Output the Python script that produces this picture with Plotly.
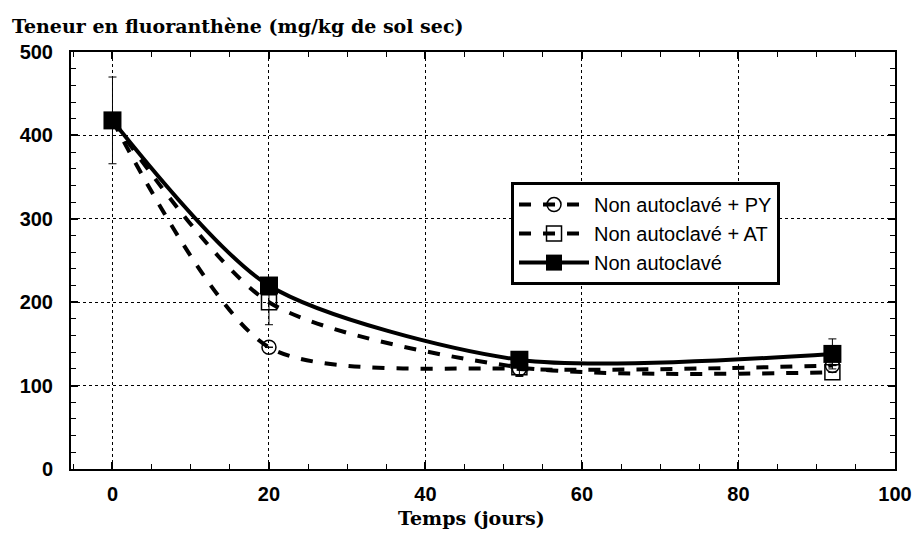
import plotly.graph_objects as go

days = [0, 20, 52, 92]
py_vals = [418, 146, 120, 124]
at_vals = [418, 200, 122, 116]
na_vals = [418, 220, 131, 138]
py_err = [0, 0, 9, 0]
at_err = [0, 27, 0, 0]
na_err = [52, 0, 0, 18]
names = ["Non autoclavé + PY", "Non autoclavé + AT", "Non autoclavé"]

SMOOTH = 0.75
fig = go.Figure()
fig.add_trace(go.Scatter(
    x=days, y=py_vals, name=names[0], mode="lines+markers",
    line=dict(color="black", width=4, dash="dash", shape="spline", smoothing=SMOOTH),
    marker=dict(symbol="circle-open", size=14, color="black", line=dict(width=1.5)),
    error_y=dict(type="data", array=py_err, color="black", thickness=1, width=4),
))
fig.add_trace(go.Scatter(
    x=days, y=at_vals, name=names[1], mode="lines+markers",
    line=dict(color="black", width=4, dash="dash", shape="spline", smoothing=SMOOTH),
    marker=dict(symbol="square-open", size=15, color="black", line=dict(width=1.5)),
    error_y=dict(type="data", array=at_err, color="black", thickness=1, width=4),
))
fig.add_trace(go.Scatter(
    x=days, y=na_vals, name=names[2], mode="lines+markers",
    line=dict(color="black", width=4, shape="spline", smoothing=SMOOTH),
    marker=dict(symbol="square", size=18, color="black"),
    error_y=dict(type="data", array=na_err, color="black", thickness=1, width=4),
))

tickfont = dict(family="Liberation Sans", size=20, color="black", weight="bold")
axis_common = dict(
    showline=True, linecolor="black", linewidth=2, mirror="ticks",
    ticks="inside", ticklen=7, tickwidth=1.5, tickcolor="black",
    showgrid=True, gridcolor="black", gridwidth=1.3, griddash="dot",
    zeroline=False, tickfont=tickfont,
)

fig.update_xaxes(
    range=[-5.3, 100.0], tickvals=[0, 20, 40, 60, 80, 100],
    minor=dict(dtick=5, ticks="inside", ticklen=5, tickcolor="black", tickwidth=1.2, showgrid=False),
    ticklabelstandoff=6,
    **axis_common,
)
fig.update_yaxes(
    range=[0, 500], tickvals=[0, 100, 200, 300, 400, 500],
    minor=dict(dtick=20, ticks="inside", ticklen=5, tickcolor="black", tickwidth=1.2, showgrid=False),
    ticklabelstandoff=12,
    **axis_common,
)

serif = dict(family="DejaVu Serif", size=19, color="black", weight="bold")
fig.add_annotation(
    text="Teneur en fluoranthène (mg/kg de sol sec)",
    xref="paper", yref="paper", x=-0.0745, y=1.062, xanchor="left", yanchor="middle",
    showarrow=False, font=serif,
)
fig.add_annotation(
    text="Temps (jours)",
    xref="paper", yref="paper", x=0.486, y=-0.1175, xanchor="center", yanchor="middle",
    showarrow=False, font=serif,
)

fig.update_layout(
    width=916, height=525,
    margin=dict(l=63, r=21, t=44, b=64),
    paper_bgcolor="white", plot_bgcolor="white",
    showlegend=True,
    legend=dict(
        x=0.534, y=0.688, xanchor="left", yanchor="top",
        bgcolor="white", bordercolor="black", borderwidth=3,
        font=dict(family="Liberation Sans", size=20, color="black"),
        itemwidth=70, tracegroupgap=0,
    ),
)

fig.write_html("out.html")
